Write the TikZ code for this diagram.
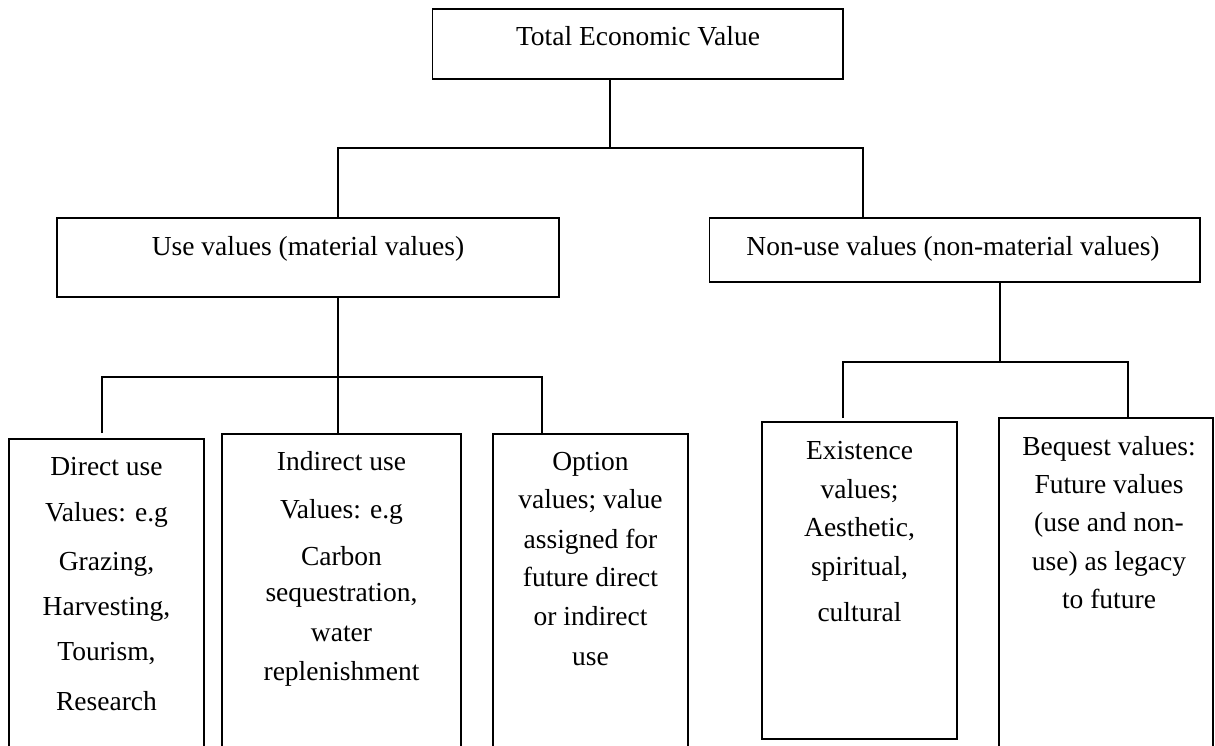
\documentclass[tikz,border=0pt]{standalone}
\usepackage{fontspec}
\setmainfont{Liberation Serif}
\begin{document}
\begin{tikzpicture}[x=1pt,y=-1pt,
  box/.style={draw, line width=1.2pt, anchor=north west, inner sep=0pt, outer sep=0pt},
  conn/.style={line width=1.2pt, line join=miter},
  txt/.style={anchor=base, inner sep=0pt, font=\fontsize{27.5}{33}\selectfont}]
\clip (0,0) rectangle (1215,745);
\fill[white] (0,0) rectangle (1215,745);

% boxes
\node[box, minimum width=410.3pt, minimum height=70pt] (tev) at (432.7,9) {};
\node[box, minimum width=502pt, minimum height=79pt] (use) at (57,218) {};
\node[box, minimum width=490.3pt, minimum height=64pt] (non) at (709.7,218) {};
\node[box, minimum width=195pt, minimum height=340pt] (dir) at (9,439) {};
\node[box, minimum width=239pt, minimum height=340pt] (ind) at (222,434) {};
\node[box, minimum width=195pt, minimum height=340pt] (opt) at (493,434) {};
\node[box, minimum width=195pt, minimum height=317pt] (exi) at (762,422) {};
\node[box, minimum width=214pt, minimum height=340pt] (beq) at (999,418) {};

% texts
\node[txt] (tevt) at (638,45.7) {Total Economic Value};
\node[txt] (uset) at (308,255) {Use values (material values)};
\node[txt] (nont) at (953,255) {Non-use values (non-material values)};

\foreach \t/\y [count=\i] in {{Direct use}/475,{Values: e.g}/521,{Grazing,}/570,{Harvesting,}/615,{Tourism,}/660,{Research}/710}
  \node[txt] (dirt\i) at (106.5,\y) {\t};
\foreach \t/\y [count=\i] in {{Indirect use}/470,{Values: e.g}/518,{Carbon}/565,{sequestration,}/601,{water}/641,{replenishment}/680}
  \node[txt] (indt\i) at (341.5,\y) {\t};
\foreach \t/\y [count=\i] in {{Option}/470,{values; value}/508,{assigned for}/548,{future direct}/586,{or indirect}/625,{use}/665}
  \node[txt] (optt\i) at (590.5,\y) {\t};
\foreach \t/\y [count=\i] in {{Existence}/459,{values;}/498,{Aesthetic,}/536,{spiritual,}/575,{cultural}/621}
  \node[txt] (exit\i) at (859.5,\y) {\t};
\foreach \t/\y [count=\i] in {{Bequest values:}/455,{Future values}/493,{(use and non-}/531,{use) as legacy}/570,{to future}/608}
  \node[txt] (beqt\i) at (1109,\y) {\t};

% connectors
\coordinate (j0) at (610,148);
\coordinate (jl) at (338,148);
\coordinate (jr) at (863,148);
\draw[conn] (tev.south -| j0) -- (j0);
\draw[conn] (use.north -| jl) -- (jl) -- (jr) -- (non.north -| jr);

\coordinate (k0) at (338,377);
\coordinate (kl) at (102,377);
\coordinate (kr) at (542,377);
\draw[conn] (use.south -| k0) -- (k0);
\draw[conn] ([yshift=6pt]dir.north -| kl) -- (kl) -- (kr) -- (opt.north -| kr);
\draw[conn] (k0) -- (ind.north -| k0);

\coordinate (m0) at (1000,362);
\coordinate (ml) at (843,362);
\coordinate (mr) at (1128,362);
\draw[conn] (non.south -| m0) -- (m0);
\draw[conn] ([yshift=4pt]exi.north -| ml) -- (ml) -- (mr) -- (beq.north -| mr);
\end{tikzpicture}
\end{document}
